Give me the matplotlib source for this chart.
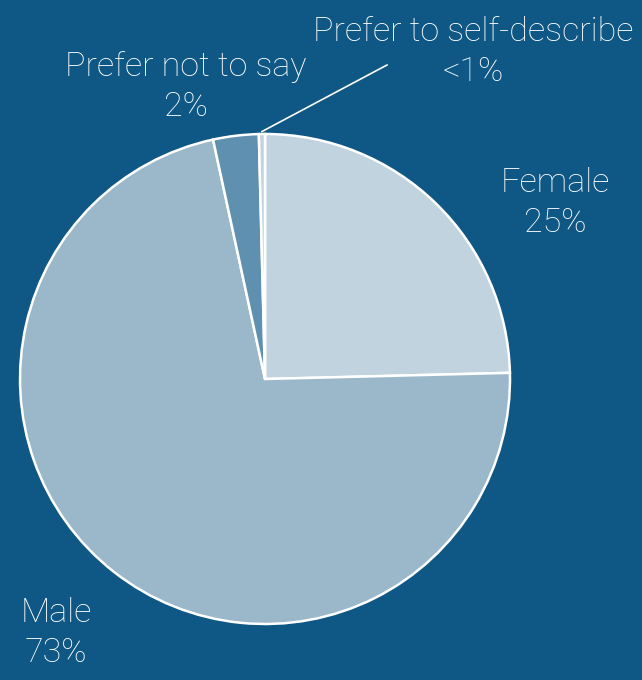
import numpy as np
import matplotlib.pyplot as plt

# Gender split
labels = ["Female", "Male", "Prefer not to say", "Prefer to self-describe"]
shown = ["25%", "73%", "2%", "<1%"]
shares = [24.6, 72.0, 3.0, 0.4]
colors = ["#c0d3de", "#9bb8cb", "#6090b0", "#c0d3de"]

bg = "#0f5784"
plt.rcParams["font.family"] = ["Roboto", "DejaVu Sans"]

W, H = 642, 680
fig = plt.figure(figsize=(W / 100, H / 100), dpi=100, facecolor=bg)
ax = fig.add_axes([0, 0, 1, 1])
ax.set_facecolor(bg)

cx, cy, r = 265, 379, 245
wedges, _ = ax.pie(shares, colors=colors, startangle=90, counterclock=False,
                   wedgeprops=dict(edgecolor="white", linewidth=1.8))
ax.set_xlim(-cx / r, (W - cx) / r)
ax.set_ylim(-(H - cy) / r, cy / r)
ax.set_aspect("equal")
ax.axis("off")


def px(x, y):
    return ((x - cx) / r, (cy - y) / r)


tk = dict(color="white", fontsize=24.5, fontweight="light", ha="center", va="center",
          linespacing=1.32)
ax.text(*px(555, 203), labels[0] + "\n" + shown[0], **tk)
ax.text(*px(56, 633), labels[1] + "\n" + shown[1], **tk)
ax.text(*px(186, 87), labels[2] + "\n" + shown[2], **tk)
ax.text(*px(473, 52), labels[3] + "\n" + shown[3], **tk)

# leader line for the tiny slice
w = wedges[3]
ang = np.deg2rad((w.theta1 + w.theta2) / 2)
ax.plot([np.cos(ang) * 1.01, px(387, 65)[0]], [np.sin(ang) * 1.01, px(387, 65)[1]],
        color="white", lw=1.2)

fig.savefig("out.png", dpi=100, facecolor=bg)
